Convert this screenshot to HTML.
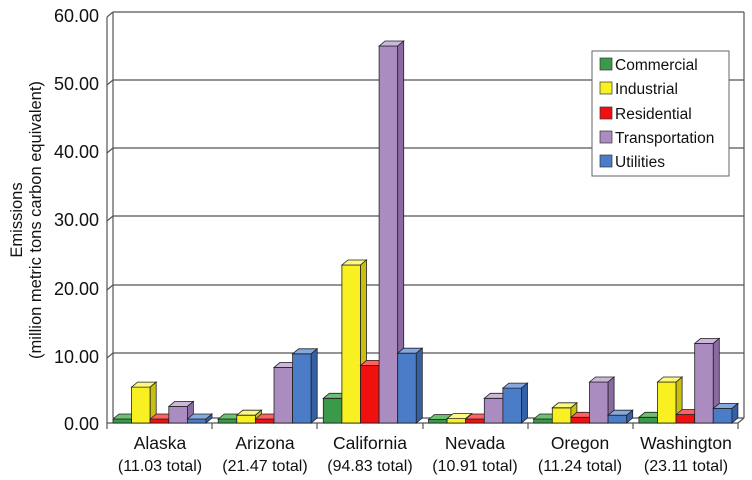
<!DOCTYPE html>
<html><head><meta charset="utf-8"><style>
body{margin:0;background:#fff;}
svg{display:block;font-family:"Liberation Sans",Arial,sans-serif;}
.bars g *{stroke:#222;stroke-width:0.8}
.b0 rect{fill:#3a9a4a}.b0 .t{fill:#6cc070}.b0 .s{fill:#257a35}
.b1 rect{fill:#f8f020}.b1 .t{fill:#fcf880}.b1 .s{fill:#c8c010}
.b2 rect{fill:#f01010}.b2 .t{fill:#ff6060}.b2 .s{fill:#b00000}
.b3 rect{fill:#aa8cc0}.b3 .t{fill:#cdb6dc}.b3 .s{fill:#8a6aa0}
.b4 rect{fill:#4a7cc8}.b4 .t{fill:#84a8e0}.b4 .s{fill:#3460a8}
</style></head><body>
<svg width="752" height="480" viewBox="0 0 752 480" xmlns="http://www.w3.org/2000/svg">
<g stroke="#555" stroke-width="1.2" fill="none">
<line x1="113" y1="12" x2="744" y2="12"/>
<line x1="113" y1="80" x2="744" y2="80"/>
<line x1="113" y1="148" x2="744" y2="148"/>
<line x1="113" y1="216" x2="744" y2="216"/>
<line x1="113" y1="285" x2="744" y2="285"/>
<line x1="113" y1="353" x2="744" y2="353"/>
<line x1="113" y1="418" x2="744" y2="418"/>
<line x1="107" y1="17" x2="113" y2="12"/><line x1="107" y1="85" x2="113" y2="80"/>
<line x1="107" y1="153" x2="113" y2="148"/><line x1="107" y1="221" x2="113" y2="216"/>
<line x1="107" y1="290" x2="113" y2="285"/><line x1="107" y1="358" x2="113" y2="353"/>
<line x1="113" y1="12" x2="113" y2="418"/>
<line x1="107" y1="17" x2="107" y2="423"/>
<line x1="744" y1="12" x2="744" y2="418"/>
<line x1="738" y1="423" x2="744" y2="418"/>
<line x1="107" y1="423" x2="738" y2="423"/>
<line x1="107" y1="423" x2="107" y2="429"/><line x1="212" y1="423" x2="212" y2="429"/>
<line x1="317" y1="423" x2="317" y2="429"/><line x1="423" y1="423" x2="423" y2="429"/>
<line x1="528" y1="423" x2="528" y2="429"/><line x1="633" y1="423" x2="633" y2="429"/>
<line x1="738" y1="423" x2="738" y2="429"/>
</g>
<g font-size="18" fill="#111" text-anchor="end">
<text x="99" y="22">60.00</text><text x="99" y="90">50.00</text><text x="99" y="158">40.00</text>
<text x="99" y="226">30.00</text><text x="99" y="295">20.00</text><text x="99" y="363">10.00</text>
<text x="99" y="430">0.00</text>
</g>
<g font-size="16.5" fill="#111" text-anchor="middle" transform="rotate(-90)">
<text x="-220" y="22">Emissions</text>
<text x="-220" y="41">(million metric tons carbon equivalent)</text>
</g>
<g font-size="17.5" fill="#111" text-anchor="middle">
<text x="160" y="449">Alaska</text><text x="160" y="471" font-size="16">(11.03 total)</text>
<text x="265" y="449">Arizona</text><text x="265" y="471" font-size="16">(21.47 total)</text>
<text x="370" y="449">California</text><text x="370" y="471" font-size="16">(94.83 total)</text>
<text x="475" y="449">Nevada</text><text x="475" y="471" font-size="16">(10.91 total)</text>
<text x="580" y="449">Oregon</text><text x="580" y="471" font-size="16">(11.24 total)</text>
<text x="686" y="449">Washington</text><text x="686" y="471" font-size="16">(23.11 total)</text>
</g>
<g class="bars">
<g class="b0" transform="translate(113,419)"><rect width="18.6" height="4"/><path class="t" d="M0 0L6-5H24.6L18.6 0Z"/><path class="s" d="M18.6 0L24.6-5V-1L18.6 4Z"/></g>
<g class="b1" transform="translate(131.6,387.1)"><rect width="18.6" height="35.9"/><path class="t" d="M0 0L6-5H24.6L18.6 0Z"/><path class="s" d="M18.6 0L24.6-5V30.9L18.6 35.9Z"/></g>
<g class="b2" transform="translate(150.2,419)"><rect width="18.6" height="4"/><path class="t" d="M0 0L6-5H24.6L18.6 0Z"/><path class="s" d="M18.6 0L24.6-5V-1L18.6 4Z"/></g>
<g class="b3" transform="translate(168.8,406.4)"><rect width="18.6" height="16.6"/><path class="t" d="M0 0L6-5H24.6L18.6 0Z"/><path class="s" d="M18.6 0L24.6-5V11.6L18.6 16.6Z"/></g>
<g class="b4" transform="translate(187.4,419)"><rect width="18.6" height="4"/><path class="t" d="M0 0L6-5H24.6L18.6 0Z"/><path class="s" d="M18.6 0L24.6-5V-1L18.6 4Z"/></g>
<g class="b0" transform="translate(218.2,419)"><rect width="18.6" height="4"/><path class="t" d="M0 0L6-5H24.6L18.6 0Z"/><path class="s" d="M18.6 0L24.6-5V-1L18.6 4Z"/></g>
<g class="b1" transform="translate(236.8,415.2)"><rect width="18.6" height="7.8"/><path class="t" d="M0 0L6-5H24.6L18.6 0Z"/><path class="s" d="M18.6 0L24.6-5V2.8L18.6 7.8Z"/></g>
<g class="b2" transform="translate(255.4,419)"><rect width="18.6" height="4"/><path class="t" d="M0 0L6-5H24.6L18.6 0Z"/><path class="s" d="M18.6 0L24.6-5V-1L18.6 4Z"/></g>
<g class="b3" transform="translate(274,367.4)"><rect width="18.6" height="55.6"/><path class="t" d="M0 0L6-5H24.6L18.6 0Z"/><path class="s" d="M18.6 0L24.6-5V50.6L18.6 55.6Z"/></g>
<g class="b4" transform="translate(292.6,353.8)"><rect width="18.6" height="69.2"/><path class="t" d="M0 0L6-5H24.6L18.6 0Z"/><path class="s" d="M18.6 0L24.6-5V64.2L18.6 69.2Z"/></g>
<g class="b0" transform="translate(323.3,398.3)"><rect width="18.6" height="24.7"/><path class="t" d="M0 0L6-5H24.6L18.6 0Z"/><path class="s" d="M18.6 0L24.6-5V19.7L18.6 24.7Z"/></g>
<g class="b1" transform="translate(341.9,265)"><rect width="18.6" height="158"/><path class="t" d="M0 0L6-5H24.6L18.6 0Z"/><path class="s" d="M18.6 0L24.6-5V153L18.6 158Z"/></g>
<g class="b2" transform="translate(360.5,365.4)"><rect width="18.6" height="57.6"/><path class="t" d="M0 0L6-5H24.6L18.6 0Z"/><path class="s" d="M18.6 0L24.6-5V52.6L18.6 57.6Z"/></g>
<g class="b3" transform="translate(379.1,46)"><rect width="18.6" height="377"/><path class="t" d="M0 0L6-5H24.6L18.6 0Z"/><path class="s" d="M18.6 0L24.6-5V372L18.6 377Z"/></g>
<g class="b4" transform="translate(397.7,353.2)"><rect width="18.6" height="69.8"/><path class="t" d="M0 0L6-5H24.6L18.6 0Z"/><path class="s" d="M18.6 0L24.6-5V64.8L18.6 69.8Z"/></g>
<g class="b0" transform="translate(428.5,419.5)"><rect width="18.6" height="3.5"/><path class="t" d="M0 0L6-5H24.6L18.6 0Z"/><path class="s" d="M18.6 0L24.6-5V-1.5L18.6 3.5Z"/></g>
<g class="b1" transform="translate(447.1,418.6)"><rect width="18.6" height="4.4"/><path class="t" d="M0 0L6-5H24.6L18.6 0Z"/><path class="s" d="M18.6 0L24.6-5V-0.6L18.6 4.4Z"/></g>
<g class="b2" transform="translate(465.7,419)"><rect width="18.6" height="4"/><path class="t" d="M0 0L6-5H24.6L18.6 0Z"/><path class="s" d="M18.6 0L24.6-5V-1L18.6 4Z"/></g>
<g class="b3" transform="translate(484.3,398.3)"><rect width="18.6" height="24.7"/><path class="t" d="M0 0L6-5H24.6L18.6 0Z"/><path class="s" d="M18.6 0L24.6-5V19.7L18.6 24.7Z"/></g>
<g class="b4" transform="translate(502.9,388.1)"><rect width="18.6" height="34.9"/><path class="t" d="M0 0L6-5H24.6L18.6 0Z"/><path class="s" d="M18.6 0L24.6-5V29.9L18.6 34.9Z"/></g>
<g class="b0" transform="translate(533.7,419)"><rect width="18.6" height="4"/><path class="t" d="M0 0L6-5H24.6L18.6 0Z"/><path class="s" d="M18.6 0L24.6-5V-1L18.6 4Z"/></g>
<g class="b1" transform="translate(552.3,407.8)"><rect width="18.6" height="15.2"/><path class="t" d="M0 0L6-5H24.6L18.6 0Z"/><path class="s" d="M18.6 0L24.6-5V10.2L18.6 15.2Z"/></g>
<g class="b2" transform="translate(570.9,417.3)"><rect width="18.6" height="5.7"/><path class="t" d="M0 0L6-5H24.6L18.6 0Z"/><path class="s" d="M18.6 0L24.6-5V0.7L18.6 5.7Z"/></g>
<g class="b3" transform="translate(589.5,382)"><rect width="18.6" height="41"/><path class="t" d="M0 0L6-5H24.6L18.6 0Z"/><path class="s" d="M18.6 0L24.6-5V36L18.6 41Z"/></g>
<g class="b4" transform="translate(608.1,415.2)"><rect width="18.6" height="7.8"/><path class="t" d="M0 0L6-5H24.6L18.6 0Z"/><path class="s" d="M18.6 0L24.6-5V2.8L18.6 7.8Z"/></g>
<g class="b0" transform="translate(638.9,417.3)"><rect width="18.6" height="5.7"/><path class="t" d="M0 0L6-5H24.6L18.6 0Z"/><path class="s" d="M18.6 0L24.6-5V0.7L18.6 5.7Z"/></g>
<g class="b1" transform="translate(657.5,382)"><rect width="18.6" height="41"/><path class="t" d="M0 0L6-5H24.6L18.6 0Z"/><path class="s" d="M18.6 0L24.6-5V36L18.6 41Z"/></g>
<g class="b2" transform="translate(676.1,414.5)"><rect width="18.6" height="8.5"/><path class="t" d="M0 0L6-5H24.6L18.6 0Z"/><path class="s" d="M18.6 0L24.6-5V3.5L18.6 8.5Z"/></g>
<g class="b3" transform="translate(694.7,343.4)"><rect width="18.6" height="79.6"/><path class="t" d="M0 0L6-5H24.6L18.6 0Z"/><path class="s" d="M18.6 0L24.6-5V74.6L18.6 79.6Z"/></g>
<g class="b4" transform="translate(713.3,408.4)"><rect width="18.6" height="14.6"/><path class="t" d="M0 0L6-5H24.6L18.6 0Z"/><path class="s" d="M18.6 0L24.6-5V9.6L18.6 14.6Z"/></g>
</g>
<g>
<rect x="592" y="51" width="137" height="125" fill="#fff" stroke="#666"/>
<rect x="600" y="58" width="12" height="12" fill="#3a9a4a" stroke="#333" stroke-width="0.7"/>
<rect x="600" y="82" width="12" height="12" fill="#f8f020" stroke="#333" stroke-width="0.7"/>
<rect x="600" y="107" width="12" height="12" fill="#f01010" stroke="#333" stroke-width="0.7"/>
<rect x="600" y="131" width="12" height="12" fill="#aa8cc0" stroke="#333" stroke-width="0.7"/>
<rect x="600" y="155" width="12" height="12" fill="#4a7cc8" stroke="#333" stroke-width="0.7"/>
<g font-size="15.5" fill="#111">
<text x="615" y="70">Commercial</text><text x="615" y="94">Industrial</text>
<text x="615" y="119">Residential</text><text x="615" y="143">Transportation</text>
<text x="615" y="167">Utilities</text>
</g></g>
</svg>
</body></html>
